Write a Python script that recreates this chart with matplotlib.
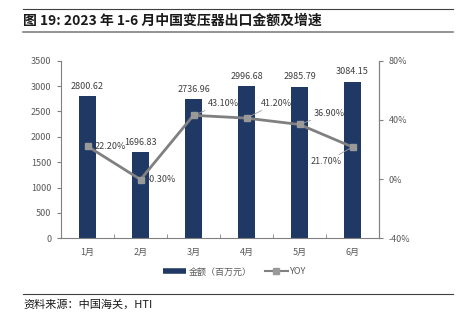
import numpy as np
import matplotlib.pyplot as plt
from matplotlib.lines import Line2D

plt.rcParams['font.family'] = ['Noto Sans CJK SC', 'DejaVu Sans']

months = ["1月", "2月", "3月", "4月", "5月", "6月"]
amount = [2800.62, 1696.83, 2736.96, 2996.68, 2985.79, 3084.15]
yoy = [22.2, -0.3, 43.1, 41.2, 36.9, 21.7]
yoy_labels = ["22.20%", "-0.30%", "43.10%", "41.20%", "36.90%", "21.70%"]

NAVY = "#203864"
GREY = "#808080"
TXT = "#595959"

fig = plt.figure(figsize=(4.59, 3.25), dpi=100)

# header / footer rules
fig.add_artist(Line2D([23 / 459, 453 / 459], [1 - 9 / 325] * 2, color="#404040", lw=0.8))
fig.add_artist(Line2D([23 / 459, 453 / 459], [1 - 32 / 325] * 2, color="#808080", lw=1.2))
fig.add_artist(Line2D([23 / 459, 453 / 459], [1 - 294 / 325] * 2, color="#404040", lw=0.8))
fig.text(23 / 459, 1 - 21 / 325, "图 19: 2023 年 1-6 月中国变压器出口金额及增速",
         fontsize=10, fontweight="bold", va="center", ha="left", color="#1a1a1a")
fig.text(23 / 459, 1 - 304 / 325, "资料来源：中国海关，HTI", fontsize=8,
         va="center", ha="left", color="#1a1a1a")

ax = fig.add_axes([61 / 459, 1 - 238.3 / 325, 318 / 459, (238.3 - 60.7) / 325])
x = np.arange(len(months))
bars = ax.bar(x, amount, width=0.31, color=NAVY, zorder=2)
ax.bar_label(bars, labels=[f"{v:.2f}" for v in amount], padding=4,
             fontsize=6.5, color="#404040")
ax.set_xlim(-0.5, len(months) - 0.5)
ax.set_ylim(0, 3500)
ax.set_yticks(np.arange(0, 3501, 500))
ax.set_xticks(x)
ax.set_xticklabels(months)
ax.set_xticks(np.arange(-0.5, len(months)), minor=True)
ax.tick_params(axis="x", which="major", length=0, labelsize=6.5, colors=TXT, pad=7)
ax.tick_params(axis="x", which="minor", length=3, color=GREY, direction="in")
ax.tick_params(axis="y", length=3, labelsize=6.5, colors=TXT, color=GREY, pad=4)
ax.spines["top"].set_visible(False)
for s in ["left", "bottom", "right"]:
    ax.spines[s].set_color(GREY)
    ax.spines[s].set_linewidth(0.8)

ax2 = ax.twinx()
ax2.plot(x, yoy, color=GREY, lw=2, marker="s", ms=5,
         markerfacecolor="#999999", markeredgecolor="#999999", zorder=3)
ax2.set_ylim(-40, 80)
ax2.set_yticks([-40, 0, 40, 80])
ax2.set_yticklabels([f"{t}%" for t in [-40, 0, 40, 80]])
ax2.tick_params(axis="y", length=3, labelsize=6.5, colors=TXT, color=GREY, pad=4)
for s in ["top", "left", "bottom"]:
    ax2.spines[s].set_visible(False)
ax2.spines["right"].set_color(GREY)
ax2.spines["right"].set_linewidth(0.8)

# YOY labels, offsets in pixels
offs = [(7, 0, "left", False), (6, 0, "left", False), (14, 12, "left", True),
        (14, 15, "left", True), (14, 11, "left", True), (-11, -15, "right", True)]
for xi, yi, lab, (dx, dy, ha, lead) in zip(x, yoy, yoy_labels, offs):
    ax2.annotate(lab, (xi, yi), xytext=(dx, dy), textcoords="offset pixels",
                 ha=ha, va="center", fontsize=6.5, color="#404040",
                 arrowprops=dict(arrowstyle="-", color="#a0a0a0", lw=0.6,
                                 shrinkA=0, shrinkB=2) if lead else None)

handles = [Line2D([], [], color=NAVY, lw=4, solid_capstyle="butt"),
           Line2D([], [], color=GREY, lw=1.5, marker="s", ms=4,
                  markerfacecolor="#999999", markeredgecolor="#999999")]
fig.legend(handles, ["金额（百万元）", "YOY"], loc="center",
           bbox_to_anchor=(235 / 459, 1 - 272 / 325), ncol=2, frameon=False,
           fontsize=6.5, labelcolor=TXT, handlelength=2.5, columnspacing=1.5,
           handletextpad=0.3)

fig.savefig("out.png", dpi=100)
